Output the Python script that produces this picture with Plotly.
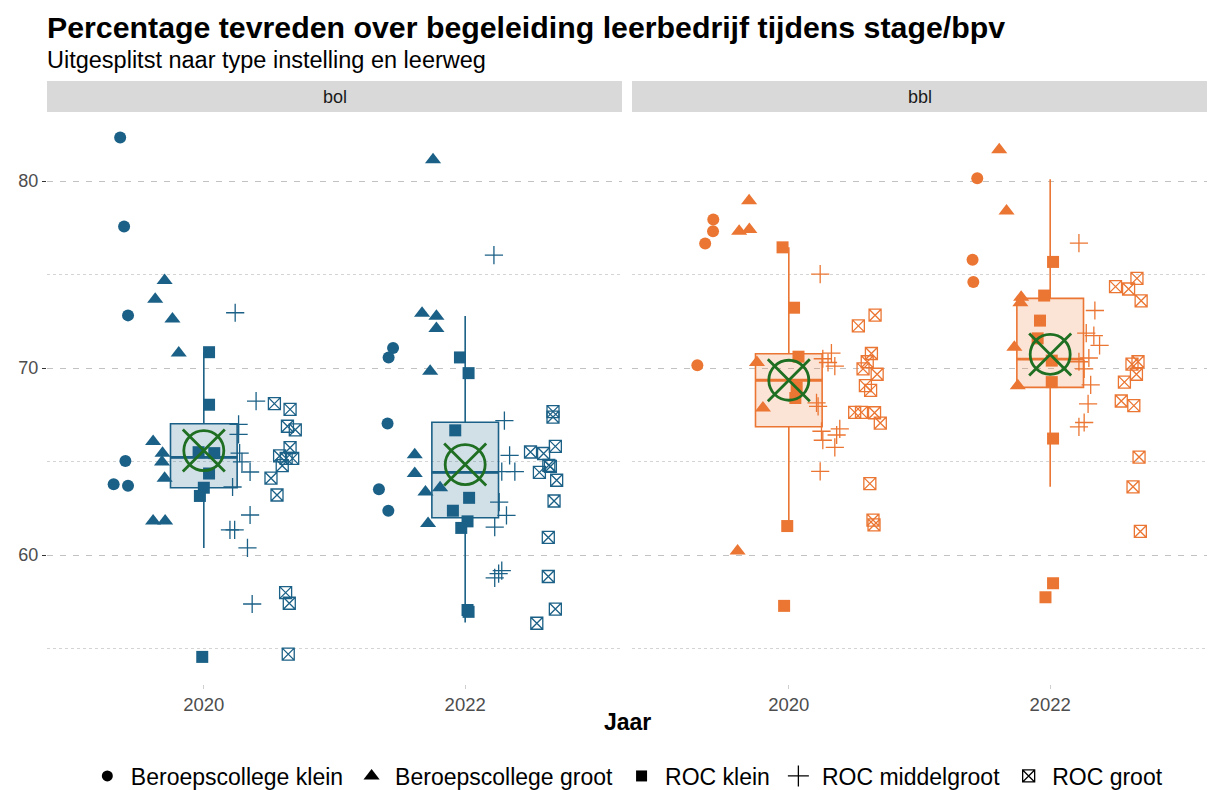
import plotly.graph_objects as go

# ---------------- data ----------------
years = ["2020", "2022"]
leerwegen = ["bol", "bbl"]
types = ["Beroepscollege klein", "Beroepscollege groot", "ROC klein", "ROC middelgroot", "ROC groot"]

# bol 2020
bol20_bk_y = [82.33, 77.57, 72.82, 65.03, 63.79, 63.71]
bol20_bk_dx = [-0.32, -0.305, -0.29, -0.30, -0.345, -0.29]
bol20_bg_y = [74.68, 73.68, 72.63, 70.81, 66.07, 65.45, 64.98, 64.11, 61.82, 61.82]
bol20_bg_dx = [-0.15, -0.186, -0.12, -0.096, -0.194, -0.158, -0.16, -0.15, -0.194, -0.148]
bol20_rk_y = [70.85, 68.04, 65.50, 65.45, 64.36, 63.60, 63.16, 54.55]
bol20_rk_dx = [0.02, 0.02, -0.02, 0.04, 0.02, 0.0, -0.015, -0.006]
bol20_rm_y = [72.96, 68.23, 66.99, 66.45, 65.45, 64.98, 64.44, 63.64, 62.14, 61.34, 61.34, 60.38, 57.38]
bol20_rm_dx = [0.12, 0.20, 0.133, 0.133, 0.137, 0.146, 0.177, 0.11, 0.177, 0.10, 0.118, 0.167, 0.185]
bol20_rg_y = [68.10, 67.79, 66.89, 66.70, 65.74, 65.30, 65.17, 65.17, 64.78, 64.11, 63.21, 57.99, 57.42, 54.70]
bol20_rg_dx = [0.27, 0.33, 0.32, 0.35, 0.33, 0.29, 0.315, 0.34, 0.30, 0.257, 0.28, 0.313, 0.327, 0.323]

# bol 2022
bol22_bk_y = [71.07, 70.57, 67.04, 63.52, 62.37]
bol22_bk_dx = [-0.276, -0.293, -0.297, -0.33, -0.294]
bol22_bg_y = [81.15, 72.93, 72.77, 72.12, 69.83, 65.37, 64.36, 63.37, 63.60, 61.68]
bol22_bg_dx = [-0.123, -0.165, -0.11, -0.11, -0.134, -0.193, -0.193, -0.152, -0.096, -0.142]
bol22_rk_y = [70.57, 69.73, 66.67, 63.06, 62.37, 61.80, 61.45, 57.06, 56.96]
bol22_rk_dx = [-0.02, 0.013, -0.038, 0.015, -0.047, 0.009, -0.015, 0.009, 0.013]
bol22_rm_y = [76.04, 67.19, 65.33, 64.46, 64.46, 62.83, 62.12, 61.49, 59.16, 59.01, 58.78]
bol22_rm_dx = [0.11, 0.15, 0.17, 0.14, 0.19, 0.13, 0.158, 0.113, 0.14, 0.128, 0.113]
bol22_rg_y = [67.67, 67.38, 65.81, 65.51, 65.43, 64.80, 64.74, 64.42, 64.00, 62.89, 60.94, 58.85, 57.11, 56.35]
bol22_rg_dx = [0.336, 0.336, 0.345, 0.25, 0.30, 0.32, 0.326, 0.284, 0.35, 0.34, 0.318, 0.318, 0.345, 0.274]

# bbl 2020
bbl20_bk_y = [77.95, 77.32, 76.67, 70.15]
bbl20_bk_dx = [-0.289, -0.29, -0.32, -0.35]
bbl20_bg_y = [78.95, 77.32, 77.42, 70.30, 67.86, 60.21]
bbl20_bg_dx = [-0.152, -0.19, -0.151, -0.122, -0.099, -0.196]
bbl20_rk_y = [76.46, 73.23, 70.61, 68.98, 68.40, 61.55, 57.28]
bbl20_rk_dx = [-0.024, 0.02, 0.037, 0.03, 0.025, -0.006, -0.018]
bbl20_rm_y = [75.03, 70.80, 70.50, 70.30, 70.10, 68.14, 67.95, 66.62, 66.75, 66.42, 66.14, 65.76, 64.47]
bbl20_rm_dx = [0.12, 0.163, 0.13, 0.15, 0.176, 0.106, 0.112, 0.125, 0.195, 0.183, 0.13, 0.176, 0.12]
bbl20_rg_y = [72.83, 72.26, 70.78, 70.34, 69.96, 69.67, 69.06, 68.81, 67.63, 67.63, 67.61, 67.06, 63.82, 61.87, 61.61]
bbl20_rg_dx = [0.33, 0.266, 0.316, 0.30, 0.284, 0.338, 0.293, 0.313, 0.252, 0.278, 0.328, 0.35, 0.31, 0.322, 0.326]

# bbl 2022
bbl22_bk_y = [80.15, 75.79, 74.61]
bbl22_bk_dx = [-0.279, -0.297, -0.294]
bbl22_bg_y = [81.68, 78.41, 73.79, 73.50, 71.11, 69.06]
bbl22_bg_dx = [-0.195, -0.167, -0.111, -0.114, -0.137, -0.124]
bbl22_rk_y = [75.68, 73.88, 72.54, 71.59, 70.40, 69.25, 66.23, 58.49, 57.74]
bbl22_rk_dx = [0.011, -0.023, -0.039, -0.048, 0.006, 0.006, 0.011, 0.011, -0.018]
bbl22_rm_y = [76.69, 73.08, 71.87, 71.74, 71.21, 70.54, 70.34, 69.96, 69.10, 68.09, 67.09, 66.85]
bbl22_rm_dx = [0.11, 0.171, 0.138, 0.167, 0.189, 0.148, 0.11, 0.13, 0.155, 0.145, 0.13, 0.11]
bbl22_rg_y = [74.80, 74.36, 74.23, 73.60, 70.34, 70.21, 69.67, 69.25, 68.24, 67.99, 65.24, 63.65, 61.26]
bbl22_rg_dx = [0.332, 0.25, 0.30, 0.348, 0.336, 0.313, 0.33, 0.284, 0.272, 0.32, 0.34, 0.317, 0.345]

# box statistics per leerweg (2020, 2022)
bol_lower = [60.38, 56.39]
bol_q1 = [63.60, 61.99]
bol_median = [65.22, 64.42]
bol_q3 = [67.02, 67.10]
bol_upper = [70.85, 72.79]
bol_mean = [65.59, 64.84]

bbl_lower = [61.55, 63.65]
bbl_q1 = [66.86, 68.97]
bbl_median = [69.35, 70.48]
bbl_q3 = [70.77, 73.73]
bbl_upper = [76.46, 80.10]
bbl_mean = [69.35, 70.73]

# ---------------- assemble ----------------
points = {
    ("bol", 0): [(bol20_bk_y, bol20_bk_dx), (bol20_bg_y, bol20_bg_dx), (bol20_rk_y, bol20_rk_dx),
                 (bol20_rm_y, bol20_rm_dx), (bol20_rg_y, bol20_rg_dx)],
    ("bol", 1): [(bol22_bk_y, bol22_bk_dx), (bol22_bg_y, bol22_bg_dx), (bol22_rk_y, bol22_rk_dx),
                 (bol22_rm_y, bol22_rm_dx), (bol22_rg_y, bol22_rg_dx)],
    ("bbl", 0): [(bbl20_bk_y, bbl20_bk_dx), (bbl20_bg_y, bbl20_bg_dx), (bbl20_rk_y, bbl20_rk_dx),
                 (bbl20_rm_y, bbl20_rm_dx), (bbl20_rg_y, bbl20_rg_dx)],
    ("bbl", 1): [(bbl22_bk_y, bbl22_bk_dx), (bbl22_bg_y, bbl22_bg_dx), (bbl22_rk_y, bbl22_rk_dx),
                 (bbl22_rm_y, bbl22_rm_dx), (bbl22_rg_y, bbl22_rg_dx)],
}
stats = {
    "bol": dict(lower=bol_lower, q1=bol_q1, median=bol_median, q3=bol_q3, upper=bol_upper, mean=bol_mean),
    "bbl": dict(lower=bbl_lower, q1=bbl_q1, median=bbl_median, q3=bbl_q3, upper=bbl_upper, mean=bbl_mean),
}

FONT = "Liberation Sans, Arial, sans-serif"
BLUE = "#1B6086"
ORANGE = "#EB7532"
GREEN = "#1F6F22"
colors = {"bol": BLUE, "bbl": ORANGE}
fills = {"bol": "rgba(27,96,134,0.2)", "bbl": "rgba(235,117,50,0.2)"}
symbols = ["circle", "triangle-up", "square", "cross-thin-open", "square-x-open"]
sizes = [12, 14, 12, 13, 12]
legend_sizes = [11, 14, 11, 15, 12]

BOXW = 0.255
pos = [1, 2]

fig = go.Figure()
axes = {"bol": ("x", "y"), "bbl": ("x2", "y2")}

for lw in leerwegen:
    xa, ya = axes[lw]
    s = stats[lw]
    c = colors[lw]
    fig.add_trace(go.Box(
        x=pos, q1=s["q1"], median=s["median"], q3=s["q3"],
        lowerfence=s["lower"], upperfence=s["upper"],
        width=BOXW, whiskerwidth=0, boxpoints=False,
        fillcolor=fills[lw], line=dict(color=c, width=1.6),
        xaxis=xa, yaxis=ya, showlegend=False, hoverinfo="skip"))
    # thicker median line
    mx, my = [], []
    for p, m in zip(pos, s["median"]):
        mx += [p - BOXW / 2, p + BOXW / 2, None]
        my += [m, m, None]
    fig.add_trace(go.Scatter(x=mx, y=my, mode="lines", line=dict(color=c, width=2.8),
                             xaxis=xa, yaxis=ya, showlegend=False, hoverinfo="skip"))
    for yi in range(2):
        for ti, (yv, dx) in enumerate(points[(lw, yi)]):
            sym = symbols[ti]
            is_open = sym.endswith("open")
            fig.add_trace(go.Scatter(
                x=[pos[yi] + d for d in dx], y=yv, mode="markers",
                marker=dict(symbol=sym, size=sizes[ti], color=c,
                            line=dict(color=c, width=1.3 if is_open else 0)),
                xaxis=xa, yaxis=ya, showlegend=False, name=types[ti]))
    # mean markers
    fig.add_trace(go.Scatter(x=pos, y=s["mean"], mode="markers",
                             marker=dict(symbol="circle-open", size=40, color=GREEN,
                                         line=dict(color=GREEN, width=2.8)),
                             xaxis=xa, yaxis=ya, showlegend=False, hoverinfo="skip"))
    fig.add_trace(go.Scatter(x=pos, y=s["mean"], mode="markers",
                             marker=dict(symbol="x-thin-open", size=42, color=GREEN,
                                         line=dict(color=GREEN, width=2.8)),
                             xaxis=xa, yaxis=ya, showlegend=False, hoverinfo="skip"))

# legend entries (black)
for ti, t in enumerate(types):
    sym = symbols[ti]
    is_open = sym.endswith("open")
    fig.add_trace(go.Scatter(x=[None], y=[None], mode="markers", name=t,
                             marker=dict(symbol=sym, size=legend_sizes[ti], color="black",
                                         line=dict(color="black", width=1.3 if is_open else 0)),
                             showlegend=True))

W, H = 1210, 790
ML, MR, MT, MB = 47, 3, 112, 106
PW = W - ML - MR
PH = H - MT - MB
d1 = [0, 575 / PW]
d2 = [585 / PW, 1]

def py(pix):  # pixel y -> paper y
    return (H - MB - pix) / PH

yrange = [53.1, 83.7]
common_y = dict(range=yrange, dtick=10, tick0=0, showgrid=True, gridcolor="#C2C2C2",
                griddash="6px,7px", gridwidth=1.1, zeroline=False, showline=False,
                minor=dict(dtick=5, tick0=0, showgrid=True, gridcolor="#D4D4D4",
                           griddash="3px,3px", gridwidth=0.8))
common_x = dict(range=[0.4, 2.6], tickvals=pos, ticktext=years, showgrid=False, zeroline=False,
                showline=False, ticks="outside", ticklen=4, tickcolor="#CFCFCF",
                tickfont=dict(size=18.5, color="#4D4D4D", family=FONT))

fig.update_layout(
    width=W, height=H,
    margin=dict(l=ML, r=MR, t=MT, b=MB, autoexpand=False),
    paper_bgcolor="white", plot_bgcolor="white",
    font=dict(family=FONT, color="#1A1A1A"),
    xaxis=dict(domain=d1, anchor="y", **common_x),
    xaxis2=dict(domain=d2, anchor="y2", **common_x),
    yaxis=dict(anchor="x", ticks="outside", ticklen=4, tickcolor="#333333",
               tickfont=dict(size=18, color="#4D4D4D", family=FONT), **common_y),
    yaxis2=dict(anchor="x2", matches="y", showticklabels=False, ticks="", **common_y),
    showlegend=True,
    legend=dict(orientation="h", x=0.499, xanchor="center", y=py(776), yanchor="middle",
                font=dict(size=23, color="black", family=FONT), bgcolor="rgba(0,0,0,0)",
                itemsizing="trace", itemwidth=37),
    shapes=[
        dict(type="rect", xref="paper", yref="paper", x0=d1[0], x1=d1[1], y0=py(112), y1=py(81),
             fillcolor="#D9D9D9", line=dict(width=0), layer="below"),
        dict(type="rect", xref="paper", yref="paper", x0=d2[0], x1=d2[1], y0=py(112), y1=py(81),
             fillcolor="#D9D9D9", line=dict(width=0), layer="below"),
    ],
    annotations=[
        dict(text="<b>Percentage tevreden over begeleiding leerbedrijf tijdens stage/bpv</b>",
             xref="paper", yref="paper", x=0, y=py(27), xanchor="left", yanchor="middle",
             showarrow=False, xshift=-2, font=dict(size=30.3, color="black", family=FONT)),
        dict(text="Uitgesplitst naar type instelling en leerweg",
             xref="paper", yref="paper", x=0, y=py(60), xanchor="left", yanchor="middle",
             showarrow=False, xshift=-2, font=dict(size=23.5, color="black", family=FONT)),
        dict(text="bol", xref="paper", yref="paper", x=(d1[0] + d1[1]) / 2, y=py(97),
             xanchor="center", yanchor="middle", showarrow=False,
             font=dict(size=18, color="#1A1A1A", family=FONT)),
        dict(text="bbl", xref="paper", yref="paper", x=(d2[0] + d2[1]) / 2, y=py(97),
             xanchor="center", yanchor="middle", showarrow=False,
             font=dict(size=18, color="#1A1A1A", family=FONT)),
        dict(text="<b>Jaar</b>", xref="paper", yref="paper", x=0.5, y=py(722),
             xanchor="center", yanchor="middle", showarrow=False,
             font=dict(size=23, color="black", family=FONT)),
    ],
)

fig.write_html("out.html", config={"displayModeBar": False},
               post_script="document.body.style.margin='0';document.body.style.overflow='hidden';")
